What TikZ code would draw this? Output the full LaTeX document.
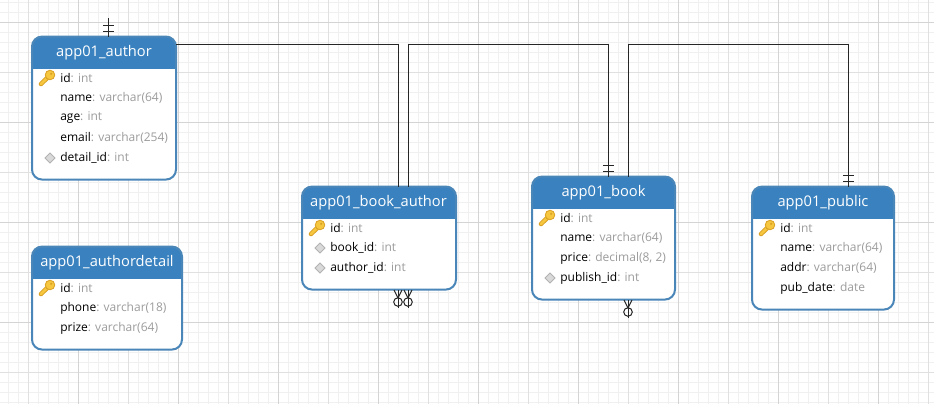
\documentclass[tikz,border=0pt]{standalone}
\usepackage{xcolor}
\usepackage{fontspec}
\setmainfont{Open Sans}
\usepackage{tikz}

\definecolor{headblue}{HTML}{3A82BF}
\definecolor{edgeblue}{HTML}{4A86B8}
\definecolor{typegray}{HTML}{9C9C9C}
\definecolor{keygold}{HTML}{F6C63E}
\definecolor{keyedge}{HTML}{D9A024}

\tikzset{
  tablebox/.style={draw=edgeblue, line width=1.5pt, fill=white, rounded corners=7.5pt, inner sep=0pt,
    outer sep=0pt, anchor=north west, yshift=-0.4pt,
    path picture={\fill[headblue, sharp corners] (path picture bounding box.north west) rectangle
      ([yshift=-24pt]path picture bounding box.north east);}},
  tabletitle/.style={text=white, font=\fontsize{11}{13}\selectfont, inner sep=0pt, yshift=-0.5pt},
  fieldrow/.style={anchor=west, inner sep=0pt, font=\fontsize{9}{11}\selectfont, yshift=-0.75pt},
  link/.style={line width=0.75pt, draw=black!85},
  fkmark/.style={fill=black!15, draw=black!30, line width=0.6pt},
  keyicon/.pic={
    \draw[keyedge, line width=3.4pt, line cap=round] (-0.5,0.6) -- (-9,9);
    \draw[keygold, line width=2pt, line cap=round] (-0.5,0.6) -- (-9,9);
    \fill[keygold, draw=keyedge, line width=0.6pt] (0,0) circle (4.8);
    \fill[keyedge] (1.2,-1.2) circle (1.2);
  },
  fkicon/.pic={
    \draw[fkmark] (-5,0) -- (0,-5) -- (5,0) -- (0,5) -- cycle;
  }
}

\newcommand{\field}[2]{#1\textcolor{typegray}{: #2}}

\begin{document}
\begin{tikzpicture}[x=0.75pt, y=-0.75pt]

\useasboundingbox (0,0) rectangle (934,404);
\fill[white] (0,0) rectangle (934,404);

% Grade de fundo
\foreach \gx in {8,18,...,928} \draw[black!6, line width=0.75pt] (\gx,0) -- (\gx,404);
\foreach \gy in {2,12,...,402} \draw[black!6, line width=0.75pt] (0,\gy) -- (934,\gy);
\foreach \gx in {28,78,...,928} \draw[black!12, line width=0.75pt] (\gx,0) -- (\gx,404);
\foreach \gy in {22,72,...,372} \draw[black!12, line width=0.75pt] (0,\gy) -- (934,\gy);
\foreach \gx in {78,178,...,878} \draw[black!17, line width=0.75pt] (\gx,0) -- (\gx,404);
\foreach \gy in {22,122,...,322} \draw[black!17, line width=0.75pt] (0,\gy) -- (934,\gy);

% Tabelas
\node[tablebox, minimum width=108pt, minimum height=107.25pt] (author) at (32,36) {};
\node[tablebox, minimum width=112.5pt, minimum height=77.25pt] (authordetail) at (32,246) {};
\node[tablebox, minimum width=115.5pt, minimum height=77.25pt] (bookauthor) at (302,186) {};
\node[tablebox, minimum width=107.25pt, minimum height=92.25pt] (book) at (532,176) {};
\node[tablebox, minimum width=106.5pt, minimum height=92.25pt] (public) at (752,186) {};

% Titulos
\node[tabletitle] (authortitle) at (104,52.5) {app01\_author};
\node[tabletitle] (authordetailtitle) at (107,262.5) {app01\_authordetail};
\node[tabletitle] (bookauthortitle) at (378.5,202.5) {app01\_book\_author};
\node[tabletitle] (booktitle) at (603.5,192.5) {app01\_book};
\node[tabletitle] (publictitle) at (823,202.5) {app01\_public};

% app01_author
\node[fieldrow] (authorid) at (60,77) {\field{id}{int}};
\node[fieldrow] (authorname) at (60,97) {\field{name}{varchar(64)}};
\node[fieldrow] (authorage) at (60,117) {\field{age}{int}};
\node[fieldrow] (authoremail) at (60,137) {\field{email}{varchar(254)}};
\node[fieldrow] (authordetailid) at (60,157) {\field{detail\_id}{int}};
\pic at (50,75) {keyicon};
\pic at (50,158) {fkicon};

% app01_authordetail
\node[fieldrow] (detailid) at (60,287) {\field{id}{int}};
\node[fieldrow] (detailphone) at (60,307) {\field{phone}{varchar(18)}};
\node[fieldrow] (detailprize) at (60,327) {\field{prize}{varchar(64)}};
\pic at (50,285) {keyicon};

% app01_book_author
\node[fieldrow] (bookauthorid) at (330,227) {\field{id}{int}};
\node[fieldrow] (bookauthorbook) at (330,247) {\field{book\_id}{int}};
\node[fieldrow] (bookauthorauthor) at (330,267) {\field{author\_id}{int}};
\pic at (320,225) {keyicon};
\pic at (320,248) {fkicon};
\pic at (320,268) {fkicon};

% app01_book
\node[fieldrow] (bookid) at (560,217) {\field{id}{int}};
\node[fieldrow] (bookname) at (560,237) {\field{name}{varchar(64)}};
\node[fieldrow] (bookprice) at (560,257) {\field{price}{decimal(8, 2)}};
\node[fieldrow] (bookpublish) at (560,277) {\field{publish\_id}{int}};
\pic at (550,215) {keyicon};
\pic at (550,278) {fkicon};

% app01_public
\node[fieldrow] (publicid) at (780,227) {\field{id}{int}};
\node[fieldrow] (publicname) at (780,247) {\field{name}{varchar(64)}};
\node[fieldrow] (publicaddr) at (780,267) {\field{addr}{varchar(64)}};
\node[fieldrow] (publicdate) at (780,287) {\field{pub\_date}{date}};
\pic at (770,225) {keyicon};

% Ligacoes
\coordinate (cornerA) at (398,44);
\coordinate (cornerB) at (408,44);
\coordinate (cornerC) at (608,44);
\coordinate (cornerD) at (628,44);
\coordinate (cornerE) at (848,44);
\draw[link] (author.east |- cornerA) -- (cornerA) -- (cornerA |- bookauthor.north);
\draw[link] (cornerB |- bookauthor.north) -- (cornerB) -- (cornerC) -- (cornerC |- book.north);
\draw[link] (cornerD |- book.north) -- (cornerD) -- (cornerE) -- (cornerE |- public.north);

% Marcas "um"
\coordinate (oneA) at (108,18);
\draw[link] (oneA) -- (oneA |- author.north);
\draw[link] (103,25) -- (114,25);
\draw[link] (103,31) -- (114,31);
\draw[link] (603,165) -- (614,165);
\draw[link] (603,171) -- (614,171);
\draw[link] (843,175) -- (854,175);
\draw[link] (843,181) -- (854,181);

% Marcas "muitos"
\foreach \cx/\cy in {398/290, 408/290, 628/300} {
  \draw[link] (\cx,\cy) -- (\cx,\cy+18);
  \draw[link] (\cx-4,\cy) -- (\cx,\cy+8) -- (\cx+4,\cy);
  \draw[link] (\cx,\cy+12) circle (4.3);
}

\end{tikzpicture}
\end{document}
